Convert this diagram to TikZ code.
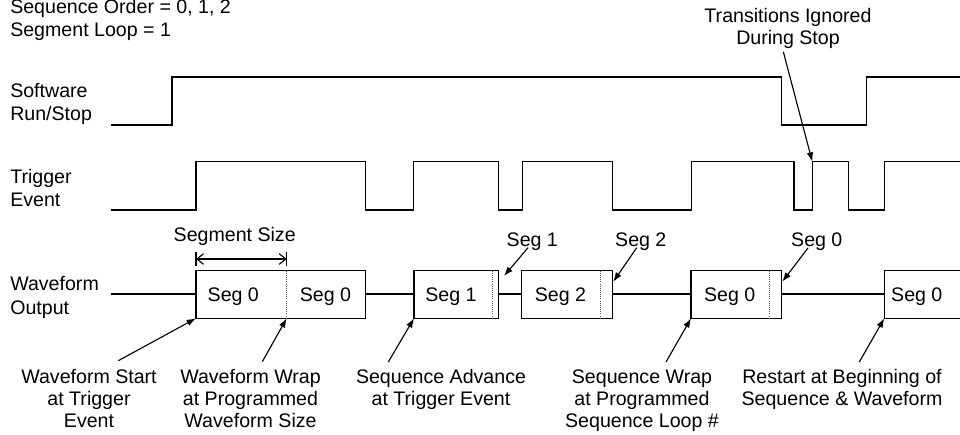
\documentclass[tikz,border=0pt]{standalone}
\usepackage{fontspec}
\setmainfont{Liberation Sans}
\usetikzlibrary{arrows.meta}
\begin{document}
\begin{tikzpicture}[x=0.75pt, y=-0.75pt,
  every node/.style={inner sep=0pt},
  lbl/.style={font=\fontsize{14.7}{17.5}\selectfont, align=left, anchor=base west},
  note/.style={font=\fontsize{14.7}{16.5}\selectfont, align=center, anchor=base},
  sig/.style={line width=1.1pt, line join=miter},
  box/.style={line width=1.1pt, fill=white},
  wrapmark/.style={densely dotted, line width=0.6pt, black!70},
  callout/.style={-{Latex[length=7pt,width=5pt]}, line width=0.85pt},
  dimline/.style={{Straight Barb[length=5pt,width=8pt]}-{Straight Barb[length=5pt,width=8pt]}, line width=0.85pt},
]
\useasboundingbox (0,0) rectangle (960,435);

% ---- settings and signal names on the left (base = last line's baseline)
\node[lbl] (order) at (10,13.3) {Sequence Order = 0, 1, 2};
\node[lbl] (loop)  at (10,36.3) {Segment Loop = 1};
\node[lbl] (runlbl) at (10,120.7) {Software\\Run/Stop};
\node[lbl] (trglbl) at (10,206.7) {Trigger\\Event};
\node[lbl] (wavlbl) at (10,314.3) {Waveform\\Output};

% ---- software run/stop level
\draw[sig] (111,125) -- (172,125) -- (172,77) -- (781.7,77) -- (781.7,125)
  -- (866.7,125) -- (866.7,77) -- (965,77);

% ---- trigger events
\draw[sig] (111,210) -- (196,210) -- (196,161.7) -- (365.3,161.7) -- (365.3,210)
  -- (413.3,210) -- (413.3,161.7) -- (498.3,161.7) -- (498.3,210)
  -- (522.5,210) -- (522.5,161.7) -- (612.7,161.7) -- (612.7,210)
  -- (691.3,210) -- (691.3,161.7) -- (794,161.7) -- (794,210)
  -- (812.3,210) -- (812.3,161.7) -- (848.3,161.7) -- (848.3,210)
  -- (884.7,210) -- (884.7,161.7) -- (965,161.7);
\coordinate (glitch) at (812.3,161.7);

% ---- waveform output: idle level between segments
\draw[sig] (111,294) -- (196,294);
\draw[sig] (365.3,294) -- (414,294);
\draw[sig] (498.3,294) -- (521.7,294);
\draw[sig] (612.7,294) -- (691,294);
\draw[sig] (781.7,294) -- (884.3,294);

% ---- segment playback blocks
\draw[box] (196,270.7) rectangle (365.3,318.3);
\draw[box] (414,270.7) rectangle (498.3,318.3);
\draw[box] (521.7,270.7) rectangle (612.7,318.3);
\draw[box] (691,270.7) rectangle (781.7,318.3);
\draw[box] (884.3,270.7) rectangle (975,318.3);

% wrap points inside the blocks
\draw[wrapmark] (286.7,270.7) -- (286.7,318.3);
\draw[wrapmark] (492.3,270.7) -- (492.3,318.3);
\draw[wrapmark] (600.7,270.7) -- (600.7,318.3);
\draw[wrapmark] (769.3,270.7) -- (769.3,318.3);

\node[note] (s1a) at (233.3,301.7) {Seg 0};
\node[note] (s1b) at (325.5,301.7) {Seg 0};
\node[note] (s2)  at (451,301.7)   {Seg 1};
\node[note] (s3)  at (560.5,301.7) {Seg 2};
\node[note] (s4)  at (729.7,301.7) {Seg 0};
\node[note] (s5)  at (916.8,301.7) {Seg 0};

% anchor points on the blocks
\coordinate (b1sw) at (196,318.3);
\coordinate (d1s)  at (286.7,318.3);
\coordinate (b2sw) at (414,318.3);
\coordinate (b4sw) at (691,318.3);
\coordinate (b5sw) at (884.3,318.3);
\coordinate (gap23) at (504,276);
\coordinate (b3e) at (613.3,281.7);
\coordinate (b4e) at (782.3,281.7);

% ---- segment size dimension
\node[note] (segsize) at (234.7,241.7) {Segment Size};
\coordinate (szL) at (196,259);
\coordinate (szR) at (286.7,259);
\draw[dimline] (szL) -- (szR);
\draw[line width=0.85pt] ([yshift=5pt]szL) -- ([yshift=-5pt]szL);
\draw[line width=0.85pt] ([yshift=5pt]szR) -- ([yshift=-5pt]szR);

% ---- segment end callouts
\node[note] (c1) at (532.3,246) {Seg 1};
\node[note] (c2) at (640.8,246) {Seg 2};
\node[note] (c0) at (816.8,246) {Seg 0};
\coordinate (c1t) at (528,247.7);
\coordinate (c2t) at (636.7,247.7);
\coordinate (c0t) at (808,248);
\draw[callout] (c1t) -- (gap23);
\draw[callout] (c2t) -- (b3e);
\draw[callout] (c0t) -- (b4e);

% ---- stop annotation
\node[note] (ign) at (788,45) {Transitions Ignored\\During Stop};
\coordinate (ignt) at (783.3,51.7);
\draw[callout] (ignt) -- (glitch);

% ---- event annotations below (base = last line's baseline)
\node[note] (wstart)  at (89,427)    {Waveform Start\\at Trigger\\Event};
\node[note] (wwrap)   at (250.5,427) {Waveform Wrap\\at Programmed\\Waveform Size};
\node[note] (sadv)    at (441,405)   {Sequence Advance\\at Trigger Event};
\node[note] (swrap)   at (642,427)   {Sequence Wrap\\at Programmed\\Sequence Loop \#};
\node[note] (restart) at (842,405)   {Restart at Beginning of\\Sequence \& Waveform};

\coordinate (wstartt)  at (118.3,360.7);
\coordinate (wwrapt)   at (262.3,361.7);
\coordinate (sadvt)    at (388.3,362);
\coordinate (swrapt)   at (666,362);
\coordinate (restartt) at (859.3,362);
\draw[callout] (wstartt) -- (b1sw);
\draw[callout] (wwrapt) -- (d1s);
\draw[callout] (sadvt) -- (b2sw);
\draw[callout] (swrapt) -- (b4sw);
\draw[callout] (restartt) -- (b5sw);
\end{tikzpicture}
\end{document}
